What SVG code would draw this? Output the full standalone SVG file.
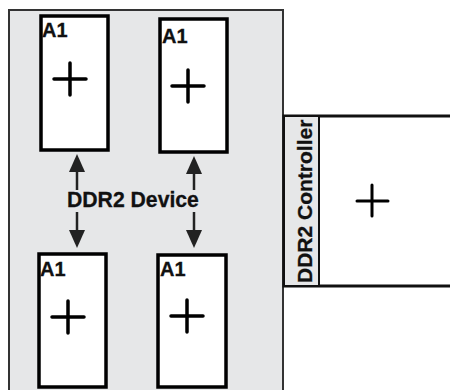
<svg xmlns="http://www.w3.org/2000/svg" width="450" height="390" viewBox="0 0 450 390">
<style>
.lbl{font-family:"Liberation Sans",Arial,sans-serif;font-weight:bold;fill:#111;stroke:#111;stroke-width:0.3}
.dev{fill:#fff;stroke:#000;stroke-width:3.5}
.plus{stroke:#000;stroke-width:3.5;stroke-linecap:round;fill:none}
.conn{stroke:#222;stroke-width:2.5;fill:none;marker-end:url(#ah)}
</style>
<defs>
<marker id="ah" markerUnits="userSpaceOnUse" markerWidth="18" markerHeight="16" refX="14" refY="8" orient="auto" viewBox="0 0 18 16">
<path d="M0,0 L18,8 L0,16 Z" fill="#222"/>
</marker>
</defs>
<g id="device-area">
<rect x="9" y="10" width="274" height="400" fill="#e6e7e8" stroke="#333" stroke-width="2"/>
</g>
<g id="device1">
<rect class="dev" x="41" y="16" width="67" height="134"/>
<text class="lbl" x="42" y="37" font-size="20">A1</text>
<path class="plus" d="M54,79 H86 M70,63 V95"/>
</g>
<g id="device2">
<rect class="dev" x="160" y="19" width="67" height="133"/>
<text class="lbl" x="162" y="43" font-size="20">A1</text>
<path class="plus" d="M172,86 H204 M188,70 V102"/>
</g>
<g id="device3">
<rect class="dev" x="39" y="254" width="67" height="133"/>
<text class="lbl" x="40" y="276" font-size="20">A1</text>
<path class="plus" d="M52,317 H84 M68,301 V333"/>
</g>
<g id="device4">
<rect class="dev" x="158" y="255" width="68" height="132"/>
<text class="lbl" x="160" y="276" font-size="20">A1</text>
<path class="plus" d="M171,316 H203 M187,300 V332"/>
</g>
<g id="label-ddr2-device">
<text class="lbl" x="67" y="207" font-size="21.2">DDR2 Device</text>
</g>
<g id="connectors">
<line class="conn" x1="77" y1="190" x2="77" y2="158"/>
<line class="conn" x1="77" y1="212" x2="77" y2="244"/>
<line class="conn" x1="194" y1="190" x2="194" y2="160"/>
<line class="conn" x1="194" y1="212" x2="194" y2="244"/>
</g>
<g id="controller">
<rect x="284" y="116" width="180" height="170" fill="#fff" stroke="#111" stroke-width="3"/>
<rect x="284" y="116" width="35" height="170" fill="#e6e7e8" stroke="#111" stroke-width="2"/>
<text class="lbl" font-size="21" transform="translate(312,283) rotate(-90)">DDR2 Controller</text>
<path class="plus" d="M357,201 H388 M372,185 V216" style="stroke-width:3"/>
</g>
</svg>
